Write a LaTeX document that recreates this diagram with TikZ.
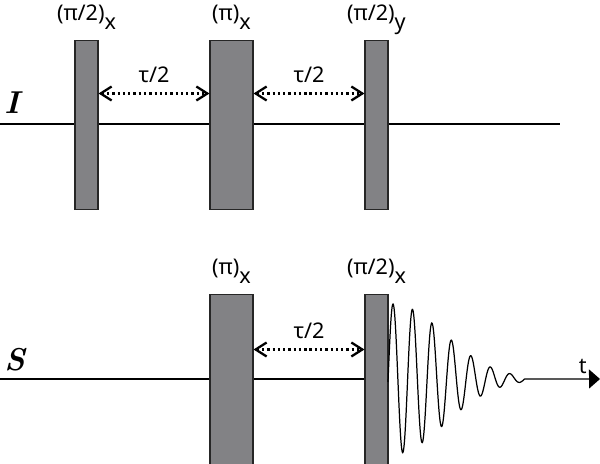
\documentclass[tikz,border=0pt]{standalone}
\usepackage{fontspec}
\newfontfamily\labelfont{Noto Sans}
\usepackage{tikz}
\usetikzlibrary{calc,positioning,arrows.meta}
\definecolor{pulsegray}{RGB}{130,130,133}
\tikzstyle{pulse} = [rectangle, 
    draw=black!85, line width=0.6pt, 
    fill=pulsegray, 
    inner sep=0pt, 
    anchor=north]
\tikzstyle{narrow} = [pulse, minimum width=0.46cm]
\tikzstyle{wide} = [pulse, minimum width=0.86cm]
\tikzstyle{axis} = [line width=0.8pt]
\tikzstyle{delay} = [line width=1.3pt, dash pattern=on 1.3pt off 1.7pt,
    {Straight Barb[length=2.2mm,width=2.8mm]}-{Straight Barb[length=2.2mm,width=2.8mm]}]
\newcommand{\lowsub}[1]{\raisebox{-0.8ex}{#1}}

\begin{document}
\begin{tikzpicture}[x=0.02cm, y=-0.02cm,
    pulselabel/.style={font=\labelfont\fontsize{12.3}{14}\selectfont, inner sep=0pt, anchor=base},
    spin/.style={font=\fontsize{18}{20}\selectfont\bfseries\itshape, inner sep=0pt, anchor=base west}
    ]
  \useasboundingbox (0,0) rectangle (600,464);
  % I channel
  \coordinate (Istart) at (0,124);
  \coordinate (Iend) at (560,124);
  \draw [axis] (Istart) -- (Iend);
  \node [spin] (Ilab) at (4,113) {I};
  \node [narrow, minimum height=3.38cm] (pIa) at (86.5,40) {};
  \node [wide, minimum height=3.38cm] (pIb) at (231.5,40) {};
  \node [narrow, minimum height=3.38cm] (pIc) at (376.5,40) {};
  \node [pulselabel] (lIa) at ([yshift=0.4cm]pIa.north) {(π/2)\lowsub{x}};
  \node [pulselabel] (lIb) at ([yshift=0.4cm]pIb.north) {(π)\lowsub{x}};
  \node [pulselabel] (lIc) at ([yshift=0.4cm]pIc.north) {(π/2)\lowsub{y}};
  \draw [delay] ([yshift=-1.07cm]pIa.north east) -- node[pulselabel, anchor=south, above=5.5pt] (tIa) {τ/2} ([yshift=-1.07cm]pIb.north west);
  \draw [delay] ([yshift=-1.07cm]pIb.north east) -- node[pulselabel, anchor=south, above=5.5pt] (tIb) {τ/2} ([yshift=-1.07cm]pIc.north west);
  % S channel
  \coordinate (Sstart) at (0,379);
  \coordinate (fidstart) at (388,379);
  \coordinate (tend) at (600,379);
  \draw [axis] (Sstart) -- (fidstart);
  \node [spin] (Slab) at (4,370) {S};
  \node [wide, minimum height=3.6cm] (pSa) at (231.5,294) {};
  \node [narrow, minimum height=3.6cm] (pSb) at (376.5,294) {};
  \node [pulselabel] (lSa) at ([yshift=0.4cm]pSa.north) {(π)\lowsub{x}};
  \node [pulselabel] (lSb) at ([yshift=0.4cm]pSb.north) {(π/2)\lowsub{x}};
  \draw [delay] ([yshift=-1.11cm]pSa.north east) -- node[pulselabel, anchor=south, above=5.5pt] (tSa) {τ/2} ([yshift=-1.11cm]pSb.north west);
  \draw [axis, line width=0.7pt, -{Triangle[length=0.22cm,width=0.38cm]}] 
    plot[domain=388:524.6, samples=400, smooth] 
      (\x,{379-75*exp(-((\x-393)/72)*((\x-393)/72))*cos((\x-393)/19.5*360)}) -- (tend);
  \node [pulselabel, anchor=base east] (tlab) at ([shift={(-13,-6)}]tend) {t};
\end{tikzpicture}
\end{document}
